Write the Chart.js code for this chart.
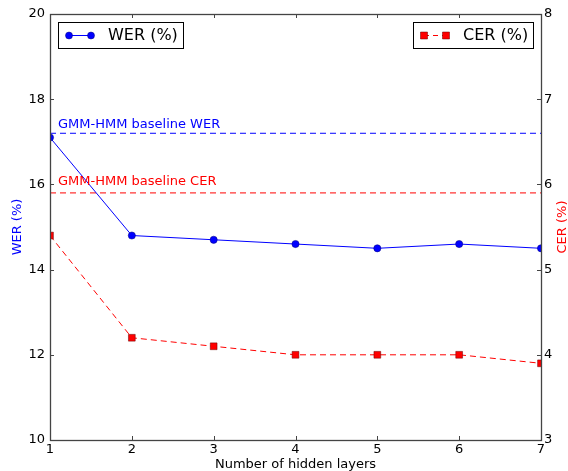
<!DOCTYPE html>
<html>
<head>
<meta charset="utf-8">
<script src="https://cdn.jsdelivr.net/npm/chart.js@4/dist/chart.umd.min.js"></script>
<style>
html,body{margin:0;padding:0;background:#fff;}
#wrap{width:568px;height:471px;position:relative;}
</style>
</head>
<body>
<div id="wrap"><canvas id="c" width="568" height="471"></canvas></div>
<script>
// ---- data ----
const layers = [1, 2, 3, 4, 5, 6, 7];
const werValues = [17.1, 14.8, 14.7, 14.6, 14.5, 14.6, 14.5];
const cerValues = [5.4, 4.2, 4.1, 4.0, 4.0, 4.0, 3.9];
const baselineWER = 17.2;
const baselineCER = 5.9;
const werTicks = [10, 12, 14, 16, 18, 20];
const cerTicks = [3, 4, 5, 6, 7, 8];
const xTicks = [1, 2, 3, 4, 5, 6, 7];
const labels = {
  wer: 'WER (%)',
  cer: 'CER (%)',
  xTitle: 'Number of hidden layers',
  baseWER: 'GMM-HMM baseline WER',
  baseCER: 'GMM-HMM baseline CER'
};

const FONT = 'DejaVu Sans';
const BLUE = '#0000ff';
const RED = '#ff0000';

const toXY = (xs, ys) => xs.map((x, i) => ({x: x, y: ys[i]}));
const xMin = layers[0], xMax = layers[layers.length - 1];

const framePlugin = {
  id: 'frame',
  afterDraw(chart) {
    const ctx = chart.ctx;
    const a = chart.chartArea;
    const xs = chart.scales.x, y = chart.scales.y, y1 = chart.scales.y1;
    ctx.save();
    // baseline annotations
    ctx.font = '13px "' + FONT + '"';
    ctx.textAlign = 'left';
    ctx.textBaseline = 'alphabetic';
    ctx.fillStyle = BLUE;
    ctx.fillText(labels.baseWER, a.left + 8, y.getPixelForValue(baselineWER) - 5);
    ctx.fillStyle = RED;
    ctx.fillText(labels.baseCER, a.left + 8, y1.getPixelForValue(baselineCER) - 8);
    // frame
    ctx.strokeStyle = '#444';
    ctx.lineWidth = 1.3;
    ctx.strokeRect(Math.round(a.left) + 0.5, Math.round(a.top) + 0.5, Math.round(a.right - a.left), Math.round(a.bottom - a.top));
    // inward ticks
    const TL = 4;
    ctx.lineWidth = 1;
    ctx.beginPath();
    xTicks.forEach(v => {
      const px = Math.round(xs.getPixelForValue(v)) + 0.5;
      ctx.moveTo(px, a.bottom); ctx.lineTo(px, a.bottom - TL);
      ctx.moveTo(px, a.top); ctx.lineTo(px, a.top + TL);
    });
    werTicks.forEach(v => {
      const py = Math.round(y.getPixelForValue(v)) + 0.5;
      ctx.moveTo(a.left, py); ctx.lineTo(a.left + TL, py);
    });
    cerTicks.forEach(v => {
      const py = Math.round(y1.getPixelForValue(v)) + 0.5;
      ctx.moveTo(a.right, py); ctx.lineTo(a.right - TL, py);
    });
    ctx.stroke();

    // right axis title (reads bottom to top)
    ctx.save();
    ctx.translate(563, (a.top + a.bottom) / 2);
    ctx.rotate(-Math.PI / 2);
    ctx.textAlign = 'center';
    ctx.textBaseline = 'middle';
    ctx.fillStyle = RED;
    ctx.font = '13px "' + FONT + '"';
    ctx.fillText(labels.cer, 0, 0);
    ctx.restore();

    // legends
    const drawLegend = (bx, by, bw, bh, label, color, style, dashed) => {
      ctx.fillStyle = '#fff';
      ctx.fillRect(bx, by, bw, bh);
      ctx.strokeStyle = '#000';
      ctx.lineWidth = 1;
      ctx.strokeRect(bx + 0.5, by + 0.5, bw, bh);
      const cy = by + bh / 2 + 0.5;
      const x0 = bx + 11, x1 = bx + 33;
      ctx.strokeStyle = color;
      ctx.setLineDash(dashed ? [5, 4] : []);
      ctx.beginPath(); ctx.moveTo(x0, cy); ctx.lineTo(x1, cy); ctx.stroke();
      ctx.setLineDash([]);
      [x0, x1].forEach(px => {
        ctx.fillStyle = color;
        ctx.beginPath();
        if (style === 'circle') {
          ctx.arc(px, cy, 3.5, 0, Math.PI * 2);
          ctx.fill();
          ctx.strokeStyle = '#00007a'; ctx.lineWidth = 0.5; ctx.stroke();
        } else {
          ctx.rect(px - 3.5, cy - 3.5, 7, 7);
          ctx.fill();
          ctx.strokeStyle = '#660000'; ctx.lineWidth = 0.5; ctx.stroke();
        }
      });
      ctx.fillStyle = '#000';
      ctx.font = '16px "' + FONT + '"';
      ctx.textAlign = 'left';
      ctx.textBaseline = 'middle';
      ctx.fillText(label, bx + 50, cy);
    };
    drawLegend(a.left + 8, a.top + 8, 125, 26, labels.wer, BLUE, 'circle', false);
    drawLegend(a.right - 8 - 120, a.top + 8, 120, 26, labels.cer, RED, 'rect', true);
    ctx.restore();
  }
};

new Chart(document.getElementById('c'), {
  type: 'line',
  data: {
    datasets: [
      {
        label: labels.wer,
        data: toXY(layers, werValues),
        yAxisID: 'y',
        borderColor: BLUE,
        backgroundColor: BLUE,
        borderWidth: 1,
        pointStyle: 'circle',
        pointRadius: 3.6,
        pointBorderColor: '#00007a',
        pointBorderWidth: 0.5,
        clip: 0,
        order: 1
      },
      {
        label: labels.cer,
        data: toXY(layers, cerValues),
        yAxisID: 'y1',
        borderColor: RED,
        backgroundColor: RED,
        borderWidth: 1,
        borderDash: [6, 4],
        pointStyle: 'rect',
        pointRadius: 4.8,
        pointBorderColor: '#660000',
        pointBorderWidth: 0.5,
        clip: 0,
        order: 2
      },
      {
        label: labels.baseWER,
        data: [{x: xMin, y: baselineWER}, {x: xMax, y: baselineWER}],
        yAxisID: 'y',
        borderColor: BLUE,
        borderWidth: 1,
        borderDash: [6, 4],
        pointRadius: 0,
        clip: 0,
        order: 3
      },
      {
        label: labels.baseCER,
        data: [{x: xMin, y: baselineCER}, {x: xMax, y: baselineCER}],
        yAxisID: 'y1',
        borderColor: RED,
        borderWidth: 1,
        borderDash: [6, 4],
        pointRadius: 0,
        clip: 0,
        order: 4
      }
    ]
  },
  options: {
    responsive: false,
    animation: false,
    layout: {padding: {top: 14, left: 0, right: 0, bottom: 0}},
    plugins: {legend: {display: false}, tooltip: {enabled: false}},
    scales: {
      x: {
        type: 'linear',
        min: xMin, max: xMax,
        afterBuildTicks: s => { s.ticks = xTicks.map(v => ({value: v})); },
        afterFit: s => { s.height = 31; },
        grid: {display: false, drawTicks: false},
        border: {display: false},
        ticks: {color: '#000', font: {family: FONT, size: 13}, padding: 2, maxRotation: 0},
        title: {display: true, text: labels.xTitle, color: '#000', font: {family: FONT, size: 13}, padding: {top: 0, bottom: -1}}
      },
      y: {
        position: 'left',
        min: werTicks[0], max: werTicks[werTicks.length - 1],
        afterBuildTicks: s => { s.ticks = werTicks.map(v => ({value: v})); },
        afterFit: s => { s.width = 50; },
        grid: {display: false, drawTicks: false},
        border: {display: false},
        ticks: {color: '#000', font: {family: FONT, size: 13}, padding: 5},
        title: {display: true, text: labels.wer, color: BLUE, font: {family: FONT, size: 13}, padding: {top: 10, bottom: 0}}
      },
      y1: {
        position: 'right',
        min: cerTicks[0], max: cerTicks[cerTicks.length - 1],
        afterBuildTicks: s => { s.ticks = cerTicks.map(v => ({value: v})); },
        afterFit: s => { s.width = 27; },
        grid: {display: false, drawTicks: false},
        border: {display: false},
        ticks: {color: '#000', font: {family: FONT, size: 13}, padding: 3},
        title: {display: false, text: labels.cer}
      }
    }
  },
  plugins: [framePlugin]
});
</script>
</body>
</html>
